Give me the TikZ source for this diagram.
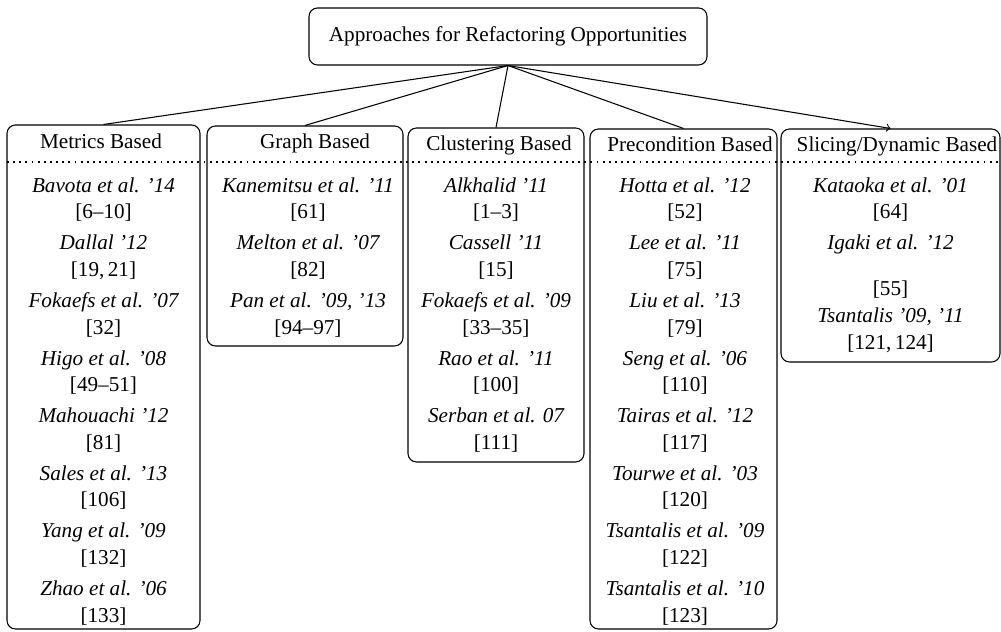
\documentclass[tikz,border=0pt]{standalone}
\usepackage{fontspec}
\setmainfont{Liberation Serif}
\usetikzlibrary{fit}
% one author line with its citation line underneath
\newcommand\paper[5]{%
  \node[author] (#1a) at (#2,#3) {#4};
  \node[refs] (#1r) at (#2,#3+26.7) {#5};
}
\begin{document}
\begin{tikzpicture}[x=0.4722pt,y=-0.4722pt,
  every node/.style={font=\fontsize{10}{12}\selectfont},
  frame/.style={draw, rounded corners=4pt, inner sep=0pt, line width=0.5pt},
  author/.style={font=\fontsize{10}{12}\selectfont\itshape, inner sep=0pt, text height=7pt, text depth=2pt},
  refs/.style={inner sep=0pt, text height=7pt, text depth=2pt},
  header/.style={inner sep=0pt, text height=7pt, text depth=2pt},
  link/.style={line width=0.5pt},
  rule/.style={dotted, line width=0.9pt}]
\useasboundingbox (0,0) rectangle (1001,632);

% root
\node[frame, fit={(309,8) (707,65)}] (root) {};
\node[header] (rootT) at (root.center) {Approaches for Refactoring Opportunities};

% category frames
\node[frame, fit={(7,125) (200,629)}] (metrics) {};
\node[frame, fit={(207,126) (403,346)}] (graph) {};
\node[frame, fit={(408,128) (584,462)}] (cluster) {};
\node[frame, fit={(590,129) (777,629)}] (precond) {};
\node[frame, fit={(781,129) (1000,362)}] (slicing) {};

% headers
\node[header] (metricsH) at (101,143) {Metrics Based};
\node[header] (graphH) at (315,143) {Graph Based};
\node[header] (clusterH) at (499,145) {Clustering Based};
\node[header] (precondH) at (690,146) {Precondition Based};
\node[header] (slicingH) at (897,146) {Slicing/Dynamic Based};

% dotted separator under the headers
\coordinate (sepL) at (7,162);
\coordinate (sepR) at (1001,162);
\draw[rule] (sepL) -- (sepR);

% connectors
\draw[link] (root.south) -- (metrics.north);
\draw[link] (root.south) -- (graph.north);
\draw[link] (root.south) -- (cluster.north);
\draw[link] (root.south) -- (precond.north);
\draw[link,->] (root.south) -- (slicing.north);

% Metrics Based
\paper{m1}{103.5}{187}{Bavota et al. '14}{[6--10]}
\paper{m2}{103.5}{244.6}{Dallal '12}{[19,\,21]}
\paper{m3}{103.5}{302.2}{Fokaefs et al. '07}{[32]}
\paper{m4}{103.5}{359.8}{Higo et al. '08}{[49--51]}
\paper{m5}{103.5}{417.4}{Mahouachi '12}{[81]}
\paper{m6}{103.5}{475}{Sales et al. '13}{[106]}
\paper{m7}{103.5}{532.6}{Yang et al. '09}{[132]}
\paper{m8}{103.5}{590.2}{Zhao et al. '06}{[133]}

% Graph Based
\paper{g1}{308}{187}{Kanemitsu et al. '11}{[61]}
\paper{g2}{308}{244.6}{Melton et al. '07}{[82]}
\paper{g3}{308}{302.2}{Pan et al. '09, '13}{[94--97]}

% Clustering Based
\paper{c1}{496}{187}{Alkhalid '11}{[1--3]}
\paper{c2}{496}{244.6}{Cassell '11}{[15]}
\paper{c3}{496}{302.2}{Fokaefs et al. '09}{[33--35]}
\paper{c4}{496}{359.8}{Rao et al. '11}{[100]}
\paper{c5}{496}{417.4}{Serban et al. 07}{[111]}

% Precondition Based
\paper{p1}{685}{187}{Hotta et al. '12}{[52]}
\paper{p2}{685}{244.6}{Lee et al. '11}{[75]}
\paper{p3}{685}{302.2}{Liu et al. '13}{[79]}
\paper{p4}{685}{359.8}{Seng et al. '06}{[110]}
\paper{p5}{685}{417.4}{Tairas et al. '12}{[117]}
\paper{p6}{685}{475}{Tourwe et al. '03}{[120]}
\paper{p7}{685}{532.6}{Tsantalis et al. '09}{[122]}
\paper{p8}{685}{590.2}{Tsantalis et al. '10}{[123]}

% Slicing/Dynamic Based
\paper{s1}{890.5}{187}{Kataoka et al. '01}{[64]}
\node[author] (s2a) at (890.5,244.6) {Igaki et al. '12};
\node[refs] (s2r) at (890.5,290) {[55]};
\paper{s3}{890.5}{317.5}{Tsantalis '09, '11}{[121,\,124]}
\end{tikzpicture}
\end{document}
